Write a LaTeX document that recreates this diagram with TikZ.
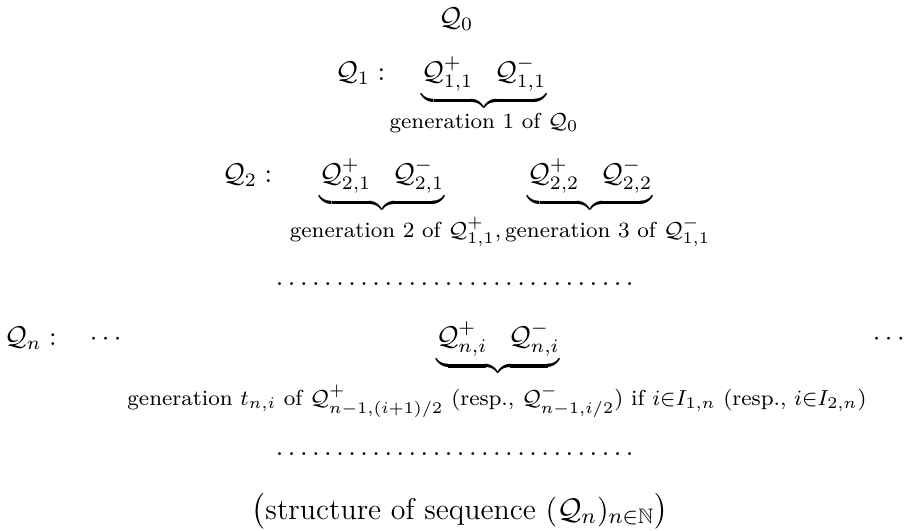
\documentclass[tikz,border=0pt]{standalone}
\usepackage{amsmath,amssymb}
\usetikzlibrary{positioning}
\begin{document}
\begin{tikzpicture}[
  x=0.3676pt, y=-0.3676pt,
  term/.style={anchor=base, inner sep=0pt},
  head/.style={anchor=base west, inner sep=0pt},
  gen/.style={anchor=base, inner sep=0pt, font=\footnotesize},
]
\useasboundingbox (0,0) rectangle (905,530);

% === generation 0 ===
\node[term] (Q0) at (456,26) {$\mathcal{Q}_0$};

% === generation 1 ===
\node[head] (Q1) at (335,80) {$\mathcal{Q}_1:$};
\node[term] (P11) at (484,80) {$\underbrace{\mathcal{Q}^+_{1,1}\enskip\;\mathcal{Q}^-_{1,1}}$};
\node[gen] (G1) at (484,128) {generation 1 of $\mathcal{Q}_0$};

% === generation 2 ===
\node[head] (Q2) at (222,182) {$\mathcal{Q}_2:$};
\node[term] (P21) at (382,182) {$\underbrace{\mathcal{Q}^+_{2,1}\enskip\;\mathcal{Q}^-_{2,1}}$};
\node[term] (P22) at (590,182) {$\underbrace{\mathcal{Q}^+_{2,2}\enskip\;\mathcal{Q}^-_{2,2}}$};
\node[gen] (G2) at (500,237) {generation 2 of $\mathcal{Q}^+_{1,1},\,$generation 3 of $\mathcal{Q}^-_{1,1}$};

% dotted row
\node[term] (D1) at (455,285) {$\ldots\ldots\ldots\ldots\ldots\ldots\ldots\ldots\ldots\ldots$};

% === generation n ===
\node[head] (Qn) at (4,345) {$\mathcal{Q}_n:$};
\node[term] (L) at (108,345) {$\cdots$};
\node[term] (Pn) at (498,345) {$\underbrace{\mathcal{Q}^+_{n,i}\enskip\;\mathcal{Q}^-_{n,i}}$};
\node[term] (R) at (891,345) {$\cdots$};
\node[gen] (Gn) at (497,405) {generation $t_{n,i}$ of $\mathcal{Q}^+_{n-1,(i+1)/2}$ (resp., $\mathcal{Q}^-_{n-1,i/2}$) if $i{\in}I_{1,n}$ (resp., $i{\in}I_{2,n}$)};

% dotted row
\node[term] (D2) at (455,455) {$\ldots\ldots\ldots\ldots\ldots\ldots\ldots\ldots\ldots\ldots$};

% caption
\node[term, font=\fontsize{11}{13}\selectfont] (cap) at (460,519) {$\big(\text{structure of sequence }(\mathcal{Q}_n)_{n\in\mathbb{N}}\big)$};
\end{tikzpicture}
\end{document}
